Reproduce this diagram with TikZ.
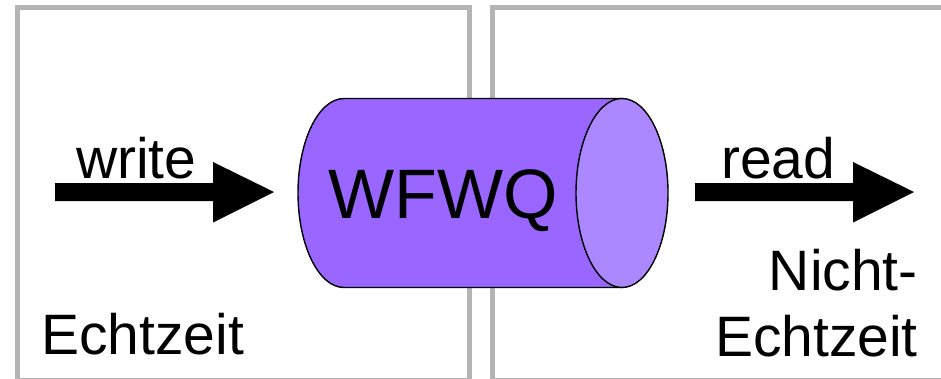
\documentclass[tikz,border=0pt]{standalone}
\usepackage{fontspec}
\setmainfont{Liberation Sans}
\definecolor{boxgray}{RGB}{180,180,180}
\definecolor{cylbody}{RGB}{153,102,255}
\definecolor{cylcap}{RGB}{171,136,255}
\begin{document}
\begin{tikzpicture}[x=1pt,y=1pt,
  regionbox/.style={draw=boxgray,line width=5pt},
  cylline/.style={draw=black,line width=1.4pt},
  blockarrow/.style={fill=black},
  lbl/.style={inner sep=0pt,font=\fontsize{57}{65.5}\selectfont},
  biglbl/.style={inner sep=0pt,font=\fontsize{70}{80}\selectfont}]
\useasboundingbox (0,0) rectangle (941,378);
% regions
\draw[regionbox] (17.5,-2) rectangle (469,370.5);
\draw[regionbox] (492.5,-2) rectangle (948,370.5);
% cylinder
\coordinate (capc) at (622,185);
\path[cylline,fill=cylbody] (622,279.5) -- (344,279.5)
  arc[start angle=90,end angle=270,x radius=46,y radius=94.5]
  -- (622,90.5) -- cycle;
\path[cylline,fill=cylcap] (capc) ellipse[x radius=46,y radius=94.5];
\node[biglbl,anchor=base] (wfwq) at (443,160) {WFWQ};
% write arrow
\coordinate (wtip) at (274,186);
\fill[blockarrow] (55,195) -- (213,195) -- (213,216) -- (wtip) -- (213,155.5) -- (213,177) -- (55,177) -- cycle;
\node[lbl,anchor=base west] (write) at (76,200) {write};
% read arrow
\coordinate (rtip) at (914,186);
\fill[blockarrow] (695,195) -- (853,195) -- (853,216) -- (rtip) -- (853,155.5) -- (853,177) -- (695,177) -- cycle;
\node[lbl,anchor=base west] (read) at (721,200) {read};
% labels
\node[lbl,anchor=base west] (echtl) at (41,24) {Echtzeit};
\node[lbl,anchor=north east,align=right] (nichtecht) at (918,129) {Nicht-\\Echtzeit};
\end{tikzpicture}
\end{document}
